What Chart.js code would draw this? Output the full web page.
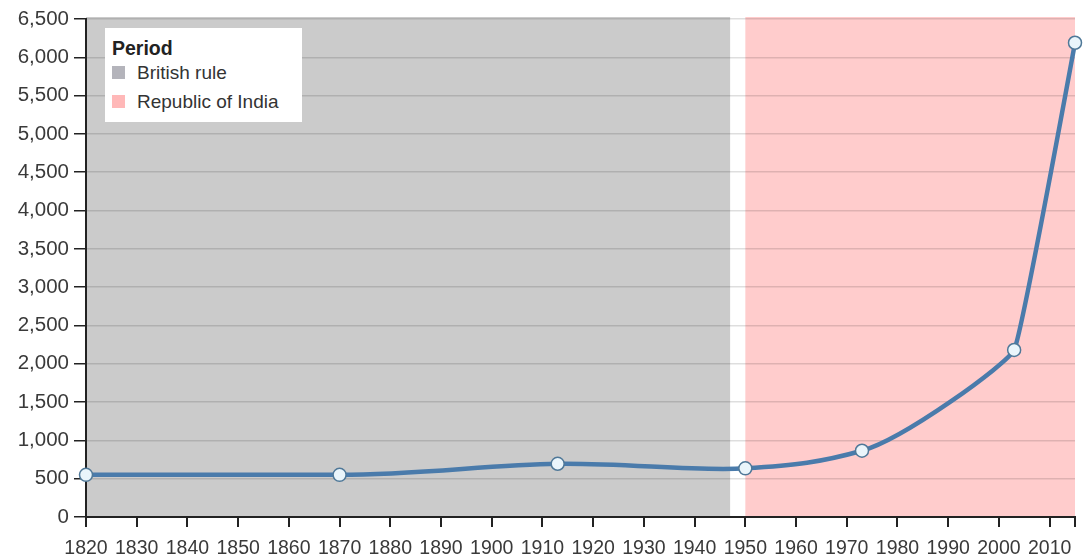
<!DOCTYPE html>
<html lang="en">
<head>
<meta charset="utf-8">
<title>India GDP per capita</title>
<script src="https://cdn.jsdelivr.net/npm/chart.js"></script>
<style>
	html, body {margin:0; padding:0; background:#fff;}
	#wrap {position:relative; width:1085px; height:556px;}
	#legenda {
		position:absolute; left:105px; top:28px; width:197px; height:94px;
		background:#fff; font-family:"Liberation Sans", Arial, sans-serif; color:#222;
		box-sizing:border-box; padding:9px 0 0 7px;
	}
	#legenda .tit {font-weight:bold; font-size:19.5px; line-height:22px;}
	#legenda .item {font-size:19px; line-height:30px; color:#333; white-space:nowrap;}
	#legenda .sw {display:inline-block; width:13px; height:13px; margin-right:12px; vertical-align:0px;}
</style>
</head>
<body>
<div id="wrap">
	<canvas id="grafico" width="1085" height="556"></canvas>
	<div id="legenda"></div>
</div>

<script>
	// dados
	const anos = [1820, 1870, 1913, 1950, 1973, 2003, 2015];
	const valores = [550, 550, 695, 635, 865, 2180, 6190];

	const periodos = ["British rule", "Republic of India"];
	const periodo_inicio = [1820, 1950];
	const periodo_fim = [1947, 2015];
	const periodo_cor = ["#cbcbcb", "#ffcccc"];
	const legenda_cor = ["#b4b4bb", "#ffb8b8"];

	const x_min = 1820, x_max = 2015;
	const x_ticks = [1820, 1830, 1840, 1850, 1860, 1870, 1880, 1890, 1900, 1910, 1920, 1930, 1940, 1950, 1960, 1970, 1980, 1990, 2000, 2010, 2015];
	const y_max = 6500, y_passo = 500;

	// legenda em html
	let html = '<div class="tit">Period</div>';
	for (let i = 0; i < periodos.length; i++) {
		html += '<div class="item"><span class="sw" style="background:' + legenda_cor[i] + '"></span>' + periodos[i] + '</div>';
	}
	document.getElementById("legenda").innerHTML = html;
	document.querySelector("#legenda .item").style.lineHeight = "28px";

	const faixas = {
		id: "faixas",
		beforeDraw(chart) {
			const ctx = chart.ctx, a = chart.chartArea, sx = chart.scales.x;
			ctx.save();
			for (let i = 0; i < periodos.length; i++) {
				const x0 = sx.getPixelForValue(periodo_inicio[i]);
				const x1 = sx.getPixelForValue(periodo_fim[i]);
				ctx.fillStyle = periodo_cor[i];
				ctx.fillRect(x0, a.top - 2, x1 - x0, a.bottom - a.top + 2);
			}
			ctx.restore();
		}
	};

	// interpolacao "monotone" antiga do d3 (v3), em pixels
	const curva = {
		id: "curva",
		beforeDatasetDraw(chart, args) {
			const linha = args.meta.dataset;
			const pts = args.meta.data;
			linha.updateControlPoints(chart.chartArea, "x");
			const n = pts.length;
			if (n < 2) return;
			const inc = (a, b) => (b.y - a.y) / (b.x - a.x);
			const m = [];
			let d = inc(pts[0], pts[1]);
			m[0] = d;
			for (let i = 1; i < n - 1; i++) {
				const d2 = inc(pts[i], pts[i+1]);
				m[i] = (d + d2) / 2;
				d = d2;
			}
			m[n-1] = d;
			for (let i = 0; i < n - 1; i++) {
				d = inc(pts[i], pts[i+1]);
				if (Math.abs(d) < 1e-6) { m[i] = m[i+1] = 0; continue; }
				const a = m[i] / d, b = m[i+1] / d;
				let s = a * a + b * b;
				if (s > 9) {
					s = d * 3 / Math.sqrt(s);
					m[i] = s * a; m[i+1] = s * b;
				}
			}
			for (let i = 0; i < n; i++) {
				const pt = pts[i];
				const s = (pts[Math.min(n - 1, i + 1)].x - pts[Math.max(0, i - 1)].x) / (6 * (1 + m[i] * m[i]));
				const tx = s || 0, ty = m[i] * s || 0;
				pt.cp1x = pt.x - tx; pt.cp1y = pt.y - ty;
				pt.cp2x = pt.x + tx; pt.cp2y = pt.y + ty;
			}
			linha._path = undefined;
		}
	};

	Chart.defaults.font.family = '"Liberation Sans", Arial, sans-serif';

	new Chart(document.getElementById("grafico"), {
		type: "line",
		data: {
			datasets: [{
				label: "GDP per capita",
				data: anos.map((a, i) => ({x: a, y: valores[i]})),
				borderColor: "#4a7bab",
				borderWidth: 4.5,
				cubicInterpolationMode: "monotone",
				pointRadius: 6.5,
				pointHoverRadius: 6.5,
				pointBackgroundColor: "#eaf5fb",
				pointBorderColor: "#4f7898",
				pointBorderWidth: 1.5,
				clip: false
			}]
		},
		options: {
			responsive: false,
			animation: false,
			layout: {padding: {top: 19, right: 8, left: 0, bottom: 0}},
			plugins: {legend: {display: false}, tooltip: {enabled: false}},
			scales: {
				x: {
					type: "linear",
					min: x_min, max: x_max,
					afterFit(s) { s.height = 39; },
					afterBuildTicks(s) { s.ticks = x_ticks.map(v => ({value: v})); },
					ticks: {
						color: "#3a3a3a",
						font: {size: 19.5},
						padding: 10,
						maxRotation: 0,
						autoSkip: false,
						callback: v => (v % 10 === 0 ? String(v) : "")
					},
					grid: {drawOnChartArea: false, drawTicks: true, tickLength: 10, tickColor: "#222", lineWidth: 2},
					border: {display: true, color: "#222", width: 2}
				},
				y: {
					min: 0, max: y_max,
					afterFit(s) { s.width = 86; },
					ticks: {stepSize: y_passo, color: "#3a3a3a", font: {size: 20.5}, padding: 5},
					grid: {color: "rgba(0,0,0,0.13)", lineWidth: 1.5, tickLength: 12, tickColor: "#222"},
					border: {display: true, color: "#222", width: 2}
				}
			}
		},
		plugins: [faixas, curva]
	});
</script>
</body>
</html>
